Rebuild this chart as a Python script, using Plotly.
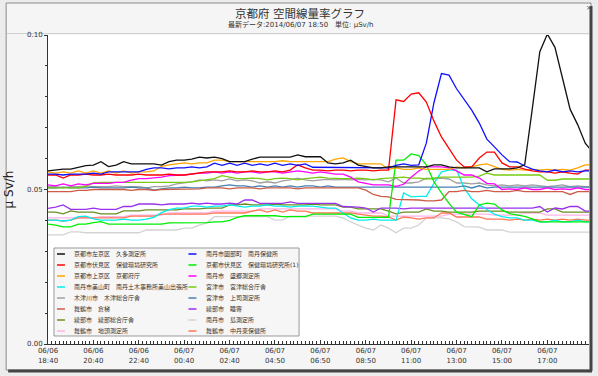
import plotly.graph_objects as go

# ---- data (10-minute readings, sampled every 2nd point; x = point index) ----
x_idx = list(range(0, 145, 2))
tick_idx = list(range(0, 133, 12))
tick_text = ["06/06<br>18:40", "06/06<br>20:40", "06/06<br>22:40", "06/07<br>00:40",
             "06/07<br>02:40", "06/07<br>04:50", "06/07<br>06:50", "06/07<br>08:50",
             "06/07<br>11:00", "06/07<br>13:00", "06/07<br>15:00", "06/07<br>17:00"]

names = ["京都市左京区　久多測定所", "京都市伏見区　保健環境研究所", "京都市上京区　京都府庁",
         "南丹市美山町　南丹土木事務所美山出張所", "木津川市　木津総合庁舎", "舞鶴市　倉梯",
         "綾部市　綾部総合庁舎", "舞鶴市　地頭測定所",
         "南丹市園部町　南丹保健所", "京都市伏見区　保健環境研究所(1)", "南丹市　盛郷測定所",
         "宮津市　宮津総合庁舎", "宮津市　上司測定所", "綾部市　睦寄", "南丹市　島測定所",
         "舞鶴市　中丹東保健所"]
colors = ["#111111", "#ff0000", "#ffa500", "#00eeee", "#a0a0a0", "#cd5b45", "#6b8e23", "#ffb3e6",
          "#1010ff", "#00ee00", "#ff00ff", "#77cc11", "#4682b4", "#9a30ee", "#d3d3d3", "#ff7755"]

kuta = [0.0560, 0.0563, 0.0566, 0.0566, 0.0572, 0.0577, 0.0579, 0.0590, 0.0574, 0.0579,
        0.0590, 0.0583, 0.0583, 0.0583, 0.0583, 0.0579, 0.0590, 0.0595, 0.0595, 0.0598,
        0.0605, 0.0602, 0.0605, 0.0600, 0.0590, 0.0590, 0.0590, 0.0598, 0.0605, 0.0605,
        0.0605, 0.0605, 0.0605, 0.0612, 0.0606, 0.0606, 0.0606, 0.0586, 0.0583, 0.0586,
        0.0595, 0.0579, 0.0574, 0.0570, 0.0570, 0.0573, 0.0573, 0.0573, 0.0573, 0.0573,
        0.0573, 0.0580, 0.0580, 0.0573, 0.0570, 0.0570, 0.0570, 0.0570, 0.0557, 0.0567,
        0.0567, 0.0567, 0.0570, 0.0580, 0.0760, 0.0946, 0.1003, 0.0960, 0.0860, 0.0760,
        0.0710, 0.0650, 0.0620]
fushimi = [0.0547, 0.0547, 0.0537, 0.0547, 0.0547, 0.0550, 0.0547, 0.0547, 0.0550, 0.0547,
           0.0547, 0.0547, 0.0550, 0.0547, 0.0547, 0.0547, 0.0550, 0.0547, 0.0547, 0.0550,
           0.0553, 0.0557, 0.0557, 0.0557, 0.0560, 0.0557, 0.0557, 0.0560, 0.0557, 0.0557,
           0.0560, 0.0557, 0.0563, 0.0580, 0.0570, 0.0563, 0.0563, 0.0560, 0.0563, 0.0563,
           0.0560, 0.0563, 0.0563, 0.0560, 0.0563, 0.0563, 0.0790, 0.0785, 0.0809, 0.0813,
           0.0783, 0.0722, 0.0670, 0.0634, 0.0595, 0.0573, 0.0573, 0.0602, 0.0621, 0.0621,
           0.0586, 0.0573, 0.0573, 0.0566, 0.0560, 0.0557, 0.0557, 0.0553, 0.0557, 0.0553,
           0.0550, 0.0563, 0.0563]
fucho = [0.0557, 0.0553, 0.0557, 0.0553, 0.0560, 0.0553, 0.0560, 0.0553, 0.0560, 0.0553,
         0.0560, 0.0553, 0.0557, 0.0557, 0.0560, 0.0575, 0.0580, 0.0583, 0.0586, 0.0583,
         0.0586, 0.0586, 0.0595, 0.0595, 0.0590, 0.0590, 0.0590, 0.0590, 0.0592, 0.0590,
         0.0590, 0.0593, 0.0590, 0.0590, 0.0590, 0.0590, 0.0590, 0.0590, 0.0598, 0.0602,
         0.0590, 0.0583, 0.0583, 0.0583, 0.0583, 0.0565, 0.0570, 0.0565, 0.0565, 0.0570,
         0.0565, 0.0565, 0.0565, 0.0565, 0.0573, 0.0570, 0.0573, 0.0580, 0.0583, 0.0575,
         0.0565, 0.0563, 0.0565, 0.0563, 0.0565, 0.0563, 0.0565, 0.0563, 0.0565, 0.0563,
         0.0570, 0.0580, 0.0580]
miyama = [0.0401, 0.0401, 0.0398, 0.0401, 0.0412, 0.0414, 0.0405, 0.0401, 0.0401, 0.0401,
          0.0404, 0.0401, 0.0401, 0.0404, 0.0410, 0.0425, 0.0435, 0.0440, 0.0440, 0.0446,
          0.0446, 0.0443, 0.0446, 0.0446, 0.0450, 0.0446, 0.0443, 0.0446, 0.0446, 0.0450,
          0.0446, 0.0446, 0.0443, 0.0446, 0.0446, 0.0446, 0.0443, 0.0440, 0.0440, 0.0425,
          0.0408, 0.0401, 0.0401, 0.0404, 0.0401, 0.0401, 0.0401, 0.0489, 0.0476, 0.0478,
          0.0478, 0.0520, 0.0557, 0.0563, 0.0563, 0.0505, 0.0470, 0.0450, 0.0434, 0.0420,
          0.0412, 0.0408, 0.0408, 0.0401, 0.0401, 0.0395, 0.0395, 0.0401, 0.0395, 0.0395,
          0.0401, 0.0395, 0.0395]
kizu = [0.0509, 0.0509, 0.0505, 0.0509, 0.0509, 0.0512, 0.0509, 0.0509, 0.0509, 0.0512,
        0.0509, 0.0509, 0.0509, 0.0505, 0.0509, 0.0509, 0.0512, 0.0518, 0.0521, 0.0525,
        0.0531, 0.0528, 0.0531, 0.0528, 0.0534, 0.0528, 0.0531, 0.0528, 0.0521, 0.0525,
        0.0521, 0.0528, 0.0531, 0.0537, 0.0531, 0.0528, 0.0531, 0.0533, 0.0531, 0.0533,
        0.0531, 0.0533, 0.0531, 0.0533, 0.0531, 0.0525, 0.0537, 0.0521, 0.0521, 0.0525,
        0.0537, 0.0534, 0.0537, 0.0534, 0.0521, 0.0521, 0.0518, 0.0521, 0.0515, 0.0512,
        0.0515, 0.0512, 0.0515, 0.0512, 0.0515, 0.0512, 0.0509, 0.0512, 0.0515, 0.0509,
        0.0512, 0.0509, 0.0509]
kurahashi = [0.0493, 0.0493, 0.0493, 0.0493, 0.0497, 0.0497, 0.0500, 0.0500, 0.0498, 0.0500,
             0.0500, 0.0497, 0.0500, 0.0500, 0.0497, 0.0500, 0.0500, 0.0500, 0.0500, 0.0500,
             0.0502, 0.0505, 0.0505, 0.0505, 0.0502, 0.0505, 0.0505, 0.0505, 0.0502, 0.0505,
             0.0505, 0.0505, 0.0505, 0.0502, 0.0505, 0.0505, 0.0505, 0.0505, 0.0505, 0.0505,
             0.0505, 0.0505, 0.0498, 0.0484, 0.0478, 0.0476, 0.0468, 0.0468, 0.0468, 0.0466,
             0.0463, 0.0463, 0.0466, 0.0493, 0.0493, 0.0497, 0.0493, 0.0493, 0.0497, 0.0493,
             0.0493, 0.0493, 0.0497, 0.0493, 0.0493, 0.0493, 0.0493, 0.0493, 0.0493, 0.0484,
             0.0493, 0.0493, 0.0493]
ayabe = [0.0427, 0.0427, 0.0421, 0.0431, 0.0427, 0.0427, 0.0427, 0.0421, 0.0421, 0.0421,
         0.0431, 0.0431, 0.0431, 0.0434, 0.0434, 0.0434, 0.0434, 0.0434, 0.0437, 0.0437,
         0.0437, 0.0440, 0.0440, 0.0440, 0.0450, 0.0450, 0.0453, 0.0450, 0.0450, 0.0450,
         0.0453, 0.0450, 0.0450, 0.0450, 0.0450, 0.0453, 0.0450, 0.0450, 0.0450, 0.0443,
         0.0443, 0.0437, 0.0437, 0.0437, 0.0437, 0.0430, 0.0421, 0.0427, 0.0427, 0.0427,
         0.0437, 0.0430, 0.0430, 0.0427, 0.0427, 0.0427, 0.0427, 0.0430, 0.0430, 0.0430,
         0.0430, 0.0427, 0.0427, 0.0427, 0.0427, 0.0427, 0.0437, 0.0437, 0.0427, 0.0427,
         0.0427, 0.0427, 0.0427]
jitou = [0.0408, 0.0408, 0.0408, 0.0408, 0.0408, 0.0408, 0.0408, 0.0412, 0.0412, 0.0412,
         0.0412, 0.0417, 0.0417, 0.0417, 0.0417, 0.0417, 0.0424, 0.0424, 0.0424, 0.0424,
         0.0424, 0.0424, 0.0430, 0.0430, 0.0430, 0.0430, 0.0430, 0.0430, 0.0437, 0.0437,
         0.0437, 0.0437, 0.0437, 0.0437, 0.0437, 0.0437, 0.0437, 0.0437, 0.0437, 0.0430,
         0.0430, 0.0424, 0.0424, 0.0424, 0.0424, 0.0414, 0.0414, 0.0414, 0.0414, 0.0414,
         0.0414, 0.0414, 0.0414, 0.0420, 0.0420, 0.0420, 0.0420, 0.0420, 0.0420, 0.0417,
         0.0417, 0.0417, 0.0417, 0.0424, 0.0424, 0.0424, 0.0417, 0.0417, 0.0417, 0.0417,
         0.0417, 0.0417, 0.0417]
sonobe = [0.0550, 0.0550, 0.0547, 0.0550, 0.0550, 0.0550, 0.0553, 0.0550, 0.0557, 0.0557,
          0.0557, 0.0557, 0.0557, 0.0565, 0.0570, 0.0570, 0.0567, 0.0570, 0.0570, 0.0573,
          0.0570, 0.0573, 0.0585, 0.0578, 0.0585, 0.0578, 0.0585, 0.0578, 0.0583, 0.0578,
          0.0585, 0.0578, 0.0583, 0.0578, 0.0583, 0.0572, 0.0572, 0.0572, 0.0570, 0.0572,
          0.0572, 0.0570, 0.0572, 0.0570, 0.0570, 0.0570, 0.0578, 0.0583, 0.0578, 0.0580,
          0.0650, 0.0780, 0.0875, 0.0870, 0.0826, 0.0790, 0.0757, 0.0715, 0.0663, 0.0638,
          0.0612, 0.0590, 0.0589, 0.0576, 0.0566, 0.0560, 0.0557, 0.0563, 0.0557, 0.0560,
          0.0557, 0.0560, 0.0560]
fushimi1 = [0.0388, 0.0385, 0.0379, 0.0379, 0.0388, 0.0388, 0.0393, 0.0396, 0.0388, 0.0388,
            0.0388, 0.0388, 0.0388, 0.0388, 0.0388, 0.0388, 0.0392, 0.0392, 0.0392, 0.0393,
            0.0393, 0.0393, 0.0395, 0.0395, 0.0400, 0.0410, 0.0415, 0.0415, 0.0415, 0.0415,
            0.0415, 0.0412, 0.0412, 0.0412, 0.0412, 0.0420, 0.0420, 0.0420, 0.0422, 0.0420,
            0.0420, 0.0410, 0.0410, 0.0410, 0.0410, 0.0410, 0.0595, 0.0595, 0.0615, 0.0610,
            0.0580, 0.0525, 0.0489, 0.0455, 0.0427, 0.0420, 0.0412, 0.0450, 0.0456, 0.0453,
            0.0434, 0.0422, 0.0417, 0.0413, 0.0405, 0.0395, 0.0395, 0.0395, 0.0395, 0.0395,
            0.0395, 0.0395, 0.0395]
morisato = [0.0515, 0.0512, 0.0518, 0.0512, 0.0518, 0.0515, 0.0520, 0.0520, 0.0520, 0.0523,
            0.0523, 0.0530, 0.0535, 0.0535, 0.0537, 0.0540, 0.0545, 0.0545, 0.0547, 0.0550,
            0.0553, 0.0553, 0.0557, 0.0553, 0.0557, 0.0553, 0.0557, 0.0557, 0.0553, 0.0557,
            0.0557, 0.0553, 0.0557, 0.0560, 0.0557, 0.0553, 0.0557, 0.0553, 0.0550, 0.0550,
            0.0540, 0.0525, 0.0520, 0.0515, 0.0515, 0.0515, 0.0510, 0.0517, 0.0540, 0.0560,
            0.0573, 0.0573, 0.0573, 0.0570, 0.0560, 0.0547, 0.0547, 0.0537, 0.0520, 0.0518,
            0.0500, 0.0502, 0.0500, 0.0505, 0.0500, 0.0500, 0.0505, 0.0500, 0.0502, 0.0500,
            0.0505, 0.0500, 0.0500]
miyazu = [0.0505, 0.0505, 0.0505, 0.0505, 0.0505, 0.0510, 0.0521, 0.0523, 0.0523, 0.0523,
          0.0523, 0.0523, 0.0523, 0.0523, 0.0523, 0.0523, 0.0523, 0.0521, 0.0523, 0.0525,
          0.0528, 0.0531, 0.0535, 0.0545, 0.0540, 0.0535, 0.0535, 0.0537, 0.0535, 0.0531,
          0.0535, 0.0537, 0.0535, 0.0531, 0.0535, 0.0537, 0.0540, 0.0537, 0.0535, 0.0535,
          0.0535, 0.0537, 0.0535, 0.0531, 0.0535, 0.0537, 0.0540, 0.0540, 0.0537, 0.0537,
          0.0534, 0.0537, 0.0540, 0.0540, 0.0540, 0.0540, 0.0540, 0.0543, 0.0553, 0.0547,
          0.0547, 0.0547, 0.0547, 0.0547, 0.0547, 0.0547, 0.0530, 0.0530, 0.0534, 0.0534,
          0.0534, 0.0534, 0.0534]
kamitsukasa = [0.0505, 0.0505, 0.0508, 0.0505, 0.0505, 0.0505, 0.0508, 0.0505, 0.0505, 0.0505,
               0.0505, 0.0508, 0.0505, 0.0505, 0.0498, 0.0502, 0.0505, 0.0505, 0.0508, 0.0505,
               0.0505, 0.0508, 0.0508, 0.0512, 0.0515, 0.0512, 0.0512, 0.0508, 0.0512, 0.0508,
               0.0512, 0.0508, 0.0512, 0.0508, 0.0512, 0.0512, 0.0508, 0.0512, 0.0508, 0.0508,
               0.0508, 0.0508, 0.0508, 0.0508, 0.0508, 0.0508, 0.0508, 0.0508, 0.0508, 0.0508,
               0.0508, 0.0508, 0.0508, 0.0508, 0.0508, 0.0512, 0.0505, 0.0512, 0.0505, 0.0508,
               0.0508, 0.0508, 0.0508, 0.0508, 0.0508, 0.0508, 0.0508, 0.0508, 0.0508, 0.0508,
               0.0508, 0.0508, 0.0508]
mutsuyori = [0.0439, 0.0443, 0.0450, 0.0436, 0.0436, 0.0436, 0.0440, 0.0436, 0.0436, 0.0436,
             0.0445, 0.0445, 0.0453, 0.0453, 0.0453, 0.0450, 0.0453, 0.0453, 0.0453, 0.0456,
             0.0453, 0.0456, 0.0453, 0.0453, 0.0456, 0.0453, 0.0466, 0.0466, 0.0455, 0.0455,
             0.0455, 0.0455, 0.0460, 0.0455, 0.0455, 0.0455, 0.0455, 0.0455, 0.0455, 0.0445,
             0.0445, 0.0443, 0.0440, 0.0427, 0.0440, 0.0440, 0.0440, 0.0437, 0.0440, 0.0440,
             0.0440, 0.0440, 0.0440, 0.0440, 0.0440, 0.0440, 0.0440, 0.0440, 0.0440, 0.0440,
             0.0440, 0.0440, 0.0440, 0.0440, 0.0440, 0.0445, 0.0427, 0.0440, 0.0437, 0.0445,
             0.0445, 0.0430, 0.0430]
shima = [0.0353, 0.0353, 0.0353, 0.0363, 0.0363, 0.0360, 0.0360, 0.0360, 0.0360, 0.0360,
         0.0360, 0.0360, 0.0360, 0.0369, 0.0369, 0.0369, 0.0369, 0.0369, 0.0375, 0.0375,
         0.0385, 0.0392, 0.0412, 0.0412, 0.0412, 0.0412, 0.0412, 0.0412, 0.0412, 0.0412,
         0.0401, 0.0401, 0.0414, 0.0414, 0.0414, 0.0414, 0.0414, 0.0414, 0.0414, 0.0408,
         0.0395, 0.0385, 0.0375, 0.0369, 0.0385, 0.0375, 0.0360, 0.0375, 0.0375, 0.0385,
         0.0408, 0.0408, 0.0408, 0.0405, 0.0395, 0.0380, 0.0378, 0.0378, 0.0369, 0.0369,
         0.0369, 0.0362, 0.0362, 0.0362, 0.0362, 0.0362, 0.0362, 0.0362, 0.0362, 0.0362,
         0.0362, 0.0362, 0.0362]
chutan = [0.0401, 0.0401, 0.0398, 0.0401, 0.0408, 0.0408, 0.0408, 0.0408, 0.0408, 0.0408,
          0.0408, 0.0414, 0.0414, 0.0414, 0.0414, 0.0420, 0.0420, 0.0420, 0.0420, 0.0420,
          0.0420, 0.0420, 0.0424, 0.0424, 0.0424, 0.0424, 0.0424, 0.0430, 0.0434, 0.0427,
          0.0434, 0.0427, 0.0434, 0.0430, 0.0430, 0.0424, 0.0424, 0.0424, 0.0424, 0.0424,
          0.0424, 0.0420, 0.0417, 0.0414, 0.0414, 0.0411, 0.0401, 0.0411, 0.0408, 0.0404,
          0.0408, 0.0408, 0.0424, 0.0424, 0.0411, 0.0411, 0.0411, 0.0411, 0.0404, 0.0404,
          0.0404, 0.0401, 0.0404, 0.0401, 0.0404, 0.0401, 0.0404, 0.0401, 0.0404, 0.0401,
          0.0404, 0.0401, 0.0401]

series_values = [kuta, fushimi, fucho, miyama, kizu, kurahashi, ayabe, jitou,
                 sonobe, fushimi1, morisato, miyazu, kamitsukasa, mutsuyori, shima, chutan]

# ---- layout geometry (pixels) ----
W, H = 598, 376
ML, MR, MT, MB = 46, 9, 35, 32
PW, PH = W - ML - MR, H - MT - MB
FONT = "DejaVu Sans, Noto Sans CJK JP, sans-serif"


def px_x(p):
    return (p - ML) / PW


def px_y(p):
    return (H - MB - p) / PH


fig = go.Figure()
draw_order = [14, 4, 7, 15, 6, 13, 3, 12, 5, 11, 10, 9, 2, 1, 8, 0]
for j in draw_order:
    fig.add_trace(go.Scatter(x=x_idx, y=series_values[j], mode="lines", name=names[j],
                             line=dict(color=colors[j], width=1.3), showlegend=False,
                             hoverinfo="skip"))

shapes = []
# window frame and plot background
shapes.append(dict(type="rect", xref="paper", yref="paper", x0=px_x(4), x1=px_x(591),
                   y0=px_y(370), y1=px_y(3), fillcolor="#f5f5f5",
                   line=dict(color="#8a8a8a", width=1), layer="below"))
shapes.append(dict(type="line", xref="paper", yref="paper", x0=px_x(591), x1=px_x(591),
                   y0=px_y(371), y1=px_y(6), line=dict(color="#444444", width=3), layer="below"))
shapes.append(dict(type="line", xref="paper", yref="paper", x0=px_x(6), x1=px_x(592),
                   y0=px_y(371), y1=px_y(371), line=dict(color="#444444", width=3), layer="below"))
shapes.append(dict(type="rect", xref="paper", yref="paper", x0=0, x1=1, y0=0, y1=1,
                   fillcolor="white", line=dict(width=0), layer="below"))
shapes.append(dict(type="line", xref="paper", yref="paper", x0=px_x(5), x1=px_x(589),
                   y0=px_y(33.5), y1=px_y(33.5), line=dict(color="#d0d0d0", width=1), layer="below"))

# legend box
shapes.append(dict(type="rect", xref="paper", yref="paper", x0=px_x(52), x1=px_x(298),
                   y0=px_y(336), y1=px_y(248), fillcolor="#f6f6f6",
                   line=dict(color="#999999", width=1), layer="above"))

annotations = []
for j, (nm, col) in enumerate(zip(names, colors)):
    c, r = divmod(j, 8)
    ypx = 254 + 11 * r
    lx = 55 if c == 0 else 187
    tx = 70 if c == 0 else 203
    shapes.append(dict(type="line", xref="paper", yref="paper", x0=px_x(lx), x1=px_x(lx + 8),
                       y0=px_y(ypx), y1=px_y(ypx), line=dict(color=col, width=1.5), layer="above"))
    annotations.append(dict(text=nm, xref="paper", yref="paper", x=px_x(tx), y=px_y(ypx),
                            xanchor="left", yanchor="middle", showarrow=False,
                            font=dict(family=FONT, size=6, color="#333333")))

annotations.append(dict(text="最新データ:2014/06/07 18:50　単位: μSv/h", xref="paper", yref="paper",
                        x=px_x(300), y=px_y(25), xanchor="center", yanchor="middle",
                        showarrow=False, font=dict(family=FONT, size=7, color="#333333")))
annotations.append(dict(text="×", xref="paper", yref="paper", x=px_x(589), y=px_y(8),
                        xanchor="center", yanchor="middle", showarrow=False,
                        font=dict(family=FONT, size=7, color="#555555")))

fig.update_layout(
    width=W, height=H,
    margin=dict(l=ML, r=MR, t=MT, b=MB),
    paper_bgcolor="#ececec", plot_bgcolor="white",
    title=dict(text="京都府 空間線量率グラフ", x=300 / W, xanchor="center",
               y=1 - 14 / H, yanchor="middle",
               font=dict(family=FONT, size=11.5, color="#333333")),
    xaxis=dict(range=[0, 143], tickmode="array", tickvals=tick_idx, ticktext=tick_text,
               ticks="inside", ticklen=4, tickcolor="#333333", showgrid=False, zeroline=False,
               showline=True, linecolor="#333333", linewidth=1,
               minor=dict(dtick=1, tick0=0, ticks="inside", ticklen=3, tickcolor="#333333",
                          showgrid=False),
               tickfont=dict(family=FONT, size=7, color="#333333")),
    yaxis=dict(range=[0, 0.10], tickmode="array", tickvals=[0, 0.05, 0.10],
               ticktext=["0.00", "0.05", "0.10"], ticks="outside", ticklen=3,
               tickcolor="#333333", showgrid=False, zeroline=False, showline=True,
               linecolor="#333333", linewidth=1,
               minor=dict(dtick=0.01, tick0=0, ticks="outside", ticklen=2, tickcolor="#333333",
                          showgrid=False),
               tickfont=dict(family=FONT, size=7, color="#333333"),
               title=dict(text="μ Sv/h", standoff=10, font=dict(family=FONT, size=12, color="#222222"))),
    shapes=shapes, annotations=annotations,
    showlegend=False,
)

fig.write_html("out.html", config={"displayModeBar": False},
               post_script="document.body.style.margin='0';")
